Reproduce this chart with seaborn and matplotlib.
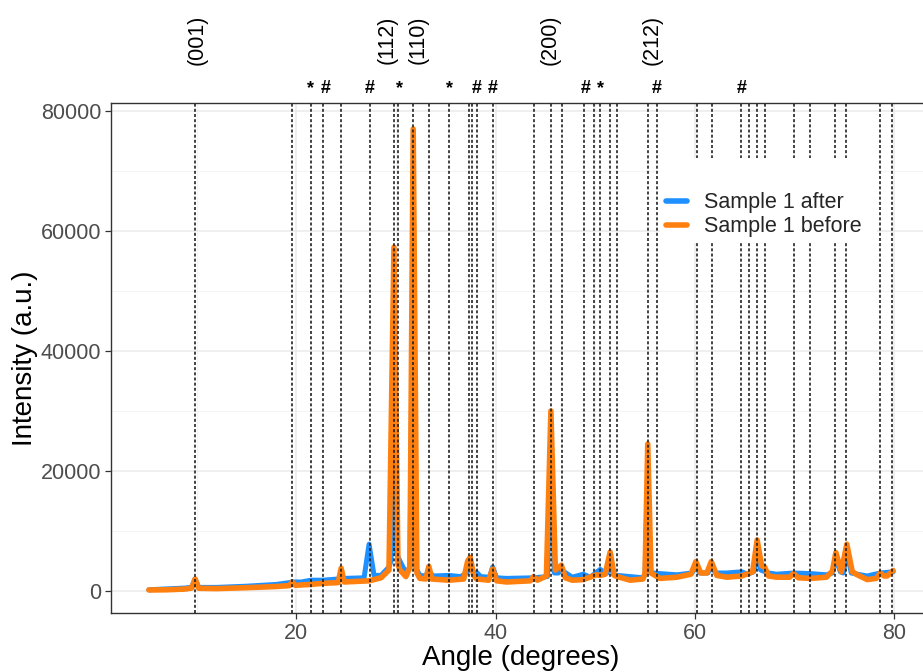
import matplotlib
matplotlib.use("Agg")
import matplotlib.pyplot as plt
import seaborn as sns
import pandas as pd
from matplotlib.lines import Line2D
from matplotlib.patches import Rectangle
import matplotlib.transforms as mtransforms

# ---- data ----
before_angle = [5.2, 7.0, 8.9, 9.5, 9.84, 10.2, 12.0, 15.0, 18.0, 19.3, 19.58, 19.9,
                21.46, 22.67, 24.2, 24.5, 24.8, 27.3, 28.5, 29.3, 29.8, 30.2, 30.4,
                31.0, 31.4, 31.73, 32.1, 32.4, 33.0, 33.3, 33.6, 35.3, 36.8, 37.2,
                37.45, 37.8, 38.1, 39.3, 39.7, 40.1, 41.1, 43.5, 43.8, 44.2, 45.1,
                45.55, 46.0, 46.6, 47.0, 47.7, 48.8, 50.1, 50.5, 51.0, 51.5, 51.9,
                52.2, 53.5, 54.8, 55.0, 55.27, 55.6, 56.5, 58.2, 59.6, 60.1, 60.6,
                61.2, 61.65, 62.2, 63.2, 64.7, 65.8, 66.25, 66.7, 67.0, 67.4, 68.2,
                69.5, 69.9, 70.4, 71.6, 73.2, 73.8, 74.15, 74.7, 75.25, 75.8, 76.3,
                77.3, 78.2, 78.6, 79.0, 79.3, 79.9]
before_int = [170, 200, 330, 500, 2000, 450, 400, 550, 750, 900, 1500, 950,
              1100, 1280, 1400, 3800, 1500, 1700, 2200, 3500, 57300, 4500, 3500,
              2400, 4000, 77000, 3000, 2100, 2000, 4100, 2000, 1800, 2000, 5000,
              5600, 2600, 2000, 1800, 3700, 1700, 1500, 1700, 2400, 1800, 2500,
              30000, 3500, 4300, 2200, 1800, 1900, 2700, 2600, 2800, 6500, 2600,
              2400, 1800, 2000, 3000, 24500, 3000, 2100, 2300, 2800, 4900, 3000,
              3000, 4900, 2600, 2300, 2500, 3200, 8500, 4200, 4000, 2500, 2300,
              2300, 2900, 2200, 2100, 2300, 3300, 6400, 3200, 7800, 3200, 2700,
              1900, 2100, 3000, 2500, 2500, 3400]

after_angle = [5.2, 7.0, 8.9, 9.5, 9.84, 10.2, 12.0, 15.0, 18.0, 19.3, 19.58, 20.5,
               21.46, 22.67, 24.2, 24.5, 24.8, 26.8, 27.3, 27.8, 28.5, 29.3, 29.5,
               29.8, 30.0, 30.1, 30.4, 31.0, 31.4, 31.73, 32.0, 32.1, 32.4, 33.0,
               33.3, 33.6, 33.7, 35.3, 36.5, 37.1, 37.45, 37.8, 38.1, 38.5, 39.4,
               39.7, 40.1, 41.1, 43.8, 45.2, 45.55, 45.9, 46.3, 46.6, 47.7, 48.8,
               49.5, 50.5, 51.0, 51.2, 51.5, 51.8, 52.2, 54.8, 55.0, 55.27, 55.55,
               55.8, 56.5, 58.2, 59.7, 60.1, 60.5, 61.3, 61.65, 62.1, 63.2, 64.7,
               65.3, 65.9, 66.25, 66.6, 67.4, 68.2, 69.9, 71.6, 73.2, 73.8, 74.15,
               74.6, 74.9, 75.25, 75.7, 76.3, 77.3, 78.6, 79.9]
after_int = [200, 350, 500, 650, 2000, 600, 600, 800, 1100, 1400, 1500, 1500,
             1800, 1800, 2000, 2200, 2100, 2200, 7800, 2600, 2600, 4000, 5000,
             50000, 7000, 6000, 5000, 3000, 4000, 60000, 3500, 3500, 2600, 2500,
             3500, 2500, 2500, 2600, 2400, 3000, 4000, 3000, 3100, 2400, 2300,
             4000, 2200, 2100, 2200, 2400, 25000, 3000, 3000, 3500, 2300, 2800,
             2300, 3600, 3000, 3000, 5000, 2800, 2600, 2200, 2800, 20000, 3200,
             3000, 2900, 2700, 3000, 4000, 3000, 3000, 4000, 3000, 3000, 3200,
             2800, 3200, 6000, 3500, 3000, 2800, 3000, 2900, 2700, 3000, 5500,
             3200, 3000, 6500, 3000, 2800, 2500, 3000, 3200]

series_names = ["Sample 1 after", "Sample 1 before"]
series_colors = ["#1E90FF", "#FF800E"]

ref_lines = [9.84, 19.6, 21.5, 22.68, 24.5, 27.35, 29.8, 30.25, 31.73, 33.27, 35.33,
             37.3, 37.6, 38.1, 39.7, 43.83, 45.54, 46.62, 48.85, 49.88, 50.44, 51.5,
             52.18, 55.27, 56.18, 60.19, 61.7, 64.68, 65.47, 66.27, 67.07, 69.9,
             71.58, 74.1, 75.2, 78.54, 79.78]

hkl_labels = ["(001)", "(112)", "(110)", "(200)", "(212)"]
hkl_pos = [10.0, 29.1, 32.2, 45.5, 55.7]

phase_marks = ["*", "#", "#", "*", "*", "#", "#", "#", "*", "#", "#"]
phase_pos = [21.4, 22.9, 27.4, 30.4, 35.4, 38.1, 39.7, 49.0, 50.5, 56.2, 64.7]

x_ticks = [20, 40, 60, 80]
y_ticks = [0, 20000, 40000, 60000, 80000]

# ---- build table ----
df = pd.concat([
    pd.DataFrame({"angle": after_angle, "intensity": after_int, "sample": series_names[0]}),
    pd.DataFrame({"angle": before_angle, "intensity": before_int, "sample": series_names[1]}),
], ignore_index=True)

sns.set_theme(style="white")
plt.rcParams["font.family"] = ["Liberation Sans", "DejaVu Sans"]

fig = plt.figure(figsize=(9.23, 6.72), dpi=100)
ax = fig.add_axes([111 / 923, 59 / 672, 820 / 923, 510 / 672])

sns.lineplot(data=df, x="angle", y="intensity", hue="sample", hue_order=series_names,
             palette=series_colors, estimator=None, sort=False, linewidth=4,
             legend=False, ax=ax, zorder=2)
ax.lines[0].set_linewidth(3.6)

for xv in ref_lines:
    ax.axvline(xv, color="#222222", linewidth=1.2, linestyle=(0, (1.8, 1.3)), zorder=3)

ax.set_xlim(1.4, 83.7)
ax.set_ylim(-3667, 81333)
ax.set_xticks(x_ticks)
ax.set_yticks(y_ticks)
ax.set_xticks([10, 30, 50, 70], minor=True)
ax.set_yticks([10000, 30000, 50000, 70000], minor=True)
ax.grid(True, which="major", color="#EBEBEB", linewidth=1.1, zorder=0)
ax.grid(True, which="minor", color="#F2F2F2", linewidth=0.6, zorder=0)
ax.set_axisbelow(True)
for sp in ax.spines.values():
    sp.set_color("#333333")
    sp.set_linewidth(1.0)
ax.tick_params(axis="both", which="major", length=4, width=0.9, color="#333333",
               labelsize=15.5, labelcolor="#4D4D4D", pad=3, direction="out",
               bottom=True, left=True)
ax.tick_params(axis="both", which="minor", length=0)
ax.set_xlabel("Angle (degrees)", fontsize=20, color="black", labelpad=1)
ax.set_ylabel("Intensity (a.u.)", fontsize=20, color="black", labelpad=2)

trans = mtransforms.blended_transform_factory(ax.transData, ax.transAxes)
for lab, xp in zip(hkl_labels, hkl_pos):
    ax.text(xp, 1.1235, lab, rotation=90, ha="center", va="center", fontsize=15.5,
            color="black", transform=trans, clip_on=False)
for m, xp in zip(phase_marks, phase_pos):
    ax.text(xp, 1.029, m, ha="center", va="center", fontsize=13, fontweight="bold",
            color="black", transform=trans, clip_on=False)

# legend background patch covering reference lines
ax.add_patch(Rectangle((0.6695, 0.725), 0.265, 0.167, transform=ax.transAxes,
                       facecolor="white", edgecolor="none", zorder=4))
handles = [Line2D([0], [0], color=c, linewidth=4) for c in series_colors]
leg = ax.legend(handles, series_names, loc="center left",
                bbox_to_anchor=(0.6695, 0.781), frameon=False, fontsize=15.5,
                handlelength=0.95, handletextpad=0.8, labelspacing=0.15,
                borderaxespad=0, borderpad=0.3)
leg.set_zorder(5)

fig.savefig("out.png", dpi=100)
